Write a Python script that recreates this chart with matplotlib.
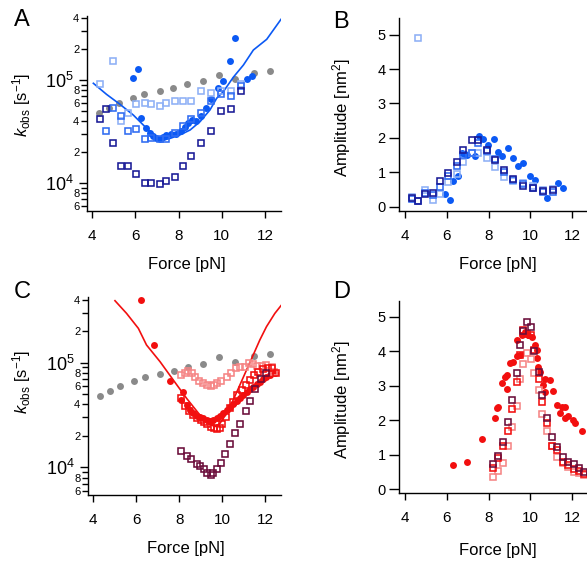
import math

import matplotlib
matplotlib.use("Agg")
import matplotlib.pyplot as plt
from matplotlib.ticker import FixedLocator, FuncFormatter

plt.rcParams["font.family"] = ["Liberation Sans", "DejaVu Sans"]
plt.rcParams["mathtext.fontset"] = "custom"
plt.rcParams["mathtext.rm"] = "Liberation Sans"
plt.rcParams["mathtext.it"] = "Liberation Sans:italic"
plt.rcParams["mathtext.bf"] = "Liberation Sans:bold"

W, H = 587, 568

GRAY = "#8a8a8a"
BLUE = "#0b59f4"
BLUE_LIGHT = "#8db0f6"
BLUE_MID = "#2f6cf2"
NAVY = "#191a96"
RED = "#f20f0f"
PINK = "#f58585"
MAROON = "#6a0c3a"

# --- reference rates (gray), same in A and C
gray_f = [4.30, 4.78, 5.25, 5.88, 6.40, 7.12, 7.74, 8.40, 9.13, 9.87, 10.62, 11.48, 12.23]
gray_k = [48300, 53900, 60200, 67300, 72500, 78500, 84100, 90500, 98200, 113000, 102000, 117000, 121500]

# --- panel A: rates
a_circ_f = [5.90, 6.12, 6.27, 6.50, 6.66, 6.81, 6.97, 7.12, 7.27, 7.43, 7.63, 7.89, 8.12,
            8.28, 8.43, 8.62, 8.82, 9.05, 9.28, 9.51, 9.82, 10.05, 10.36, 10.61, 11.18, 11.40]
a_circ_k = [105000, 126800, 43300, 34600, 30900, 28700, 27200, 26700, 27900, 29400, 30000,
            30000, 32400, 35400, 38100, 41000, 40100, 44900, 53200, 65000, 84300, 97800,
            152700, 257000, 101500, 109300]

a_light_f = [4.34, 4.96, 5.34, 5.65, 6.04, 6.42, 6.73, 7.12, 7.43, 7.81, 8.20, 8.59, 9.05,
             9.51, 9.98, 10.44, 10.90]
a_light_k = [90800, 152700, 40100, 48300, 58600, 60400, 58200, 56000, 60400, 62700, 62700,
             62700, 78300, 75300, 78300, 78300, 90800]

a_mid_f = [4.65, 4.96, 5.34, 5.65, 6.04, 6.42, 6.73, 7.12, 7.43, 7.81, 8.20, 8.59, 9.05,
           9.51, 9.98, 10.44, 10.90]
a_mid_k = [32100, 53900, 44900, 32100, 33300, 26700, 27700, 26700, 26700, 30900, 35900,
           41600, 48300, 62700, 72600, 70000, 87500]

a_navy_f = [4.34, 4.65, 4.96, 5.34, 5.65, 6.04, 6.42, 6.73, 7.12, 7.43, 7.81, 8.20, 8.59,
            9.05, 9.51, 9.98, 10.44, 10.90]
a_navy_k = [41600, 52000, 24800, 14700, 14700, 12200, 10100, 10100, 9770, 10500, 11400,
            14700, 18400, 24800, 32100, 50100, 52000, 78300]

a_fit_f = [4.05, 4.66, 5.28, 5.90, 6.52, 6.98, 7.29, 7.60, 8.06, 8.53, 8.99, 9.45, 9.76,
           10.07, 10.53, 11.00, 11.46, 12.08, 12.74]
a_fit_k = [92900, 72600, 58200, 45800, 34000, 28300, 26200, 27200, 29400, 32800, 39500,
           51300, 66500, 77100, 106200, 139600, 195000, 247700, 386400]

# --- panel B: amplitudes
b_circ_f = [5.91, 6.15, 6.31, 6.55, 6.71, 6.85, 6.95, 7.35, 7.54, 7.75, 7.98, 8.26, 8.46,
            8.62, 8.94, 9.18, 9.42, 9.66, 9.98, 10.22, 10.77, 11.33, 11.57]
b_circ_a = [0.36, 0.21, 0.74, 0.89, 1.55, 1.52, 1.50, 1.47, 2.06, 1.96, 1.79, 1.96, 1.60,
            1.47, 1.71, 1.42, 1.18, 1.28, 0.89, 0.79, 0.26, 0.70, 0.55]

b_sq_f = [4.32, 4.64, 4.96, 5.35, 5.67, 6.07, 6.47, 6.79, 7.19, 7.51, 7.90, 8.30, 8.73,
          9.18, 9.66, 10.14, 10.61, 11.09]
b_light_a = [0.29, 4.90, 0.50, 0.21, 0.36, 0.71, 0.95, 1.31, 1.55, 1.57, 1.42, 1.16, 0.87,
             0.74, 0.70, 0.60, 0.48, 0.53]
b_mid_a = [0.24, 0.17, 0.40, 0.33, 0.58, 0.90, 1.19, 1.50, 1.55, 1.84, 1.62, 1.40, 1.00,
           0.78, 0.65, 0.55, 0.42, 0.44]
b_navy_a = [0.26, 0.16, 0.36, 0.41, 0.74, 0.97, 1.31, 1.66, 1.93, 1.93, 1.66, 1.37, 1.06,
            0.82, 0.60, 0.55, 0.45, 0.48]

# --- panel C: rates
c_circ_f = [6.24, 6.84, 7.57, 8.19, 8.11, 8.35, 8.50, 8.66, 8.81, 8.97, 9.12, 9.28, 9.43,
            9.59, 9.75, 9.90, 10.06, 10.21, 10.37, 10.52, 10.68, 10.83, 10.99, 11.14, 11.30,
            11.45, 11.61, 11.76, 11.92, 12.07, 12.23, 12.46]
c_circ_k = [397000, 146600, 67300, 52100, 44000, 39400, 35300, 32800, 30900, 30000, 29400,
            28300, 27900, 28300, 29400, 30900, 32800, 35300, 38000, 40300, 43400, 45600,
            49100, 52800, 55600, 59100, 62600, 65800, 69300, 73400, 76200, 80200]

c_red_f = [8.07, 8.27, 8.47, 8.66, 8.84, 9.00, 9.16, 9.31, 9.48, 9.64, 9.78, 9.90, 10.02,
           10.18, 10.37, 10.52, 10.71, 10.91, 11.10, 11.30, 11.50, 11.69, 11.92, 12.12, 12.35,
           12.50]
c_red_k = [45600, 38500, 34500, 31600, 29400, 28300, 26900, 25800, 24500, 23600, 23300,
           23900, 25900, 30500, 36600, 42400, 49100, 54800, 61200, 68200, 76200, 82000,
           86300, 88300, 89600, 80000]

c_pink_f = [8.11, 8.27, 8.43, 8.58, 8.74, 8.94, 9.12, 9.31, 9.47, 9.62, 9.78, 9.93, 10.21,
            10.44, 10.65, 10.83, 11.07, 11.27, 11.45, 11.64, 11.84, 12.07, 12.31, 12.40]
c_pink_k = [76200, 80200, 83900, 80200, 73400, 67300, 63500, 61200, 59900, 61200, 64400,
            67300, 73400, 80200, 88300, 91600, 90200, 98600, 97200, 92900, 92900, 95000,
            91600, 82000]

c_maroon_f = [8.11, 8.35, 8.57, 8.81, 8.97, 9.16, 9.31, 9.47, 9.59, 9.75, 9.93, 10.15,
              10.37, 10.60, 10.83, 11.10, 11.31, 11.55, 11.81, 12.07]
c_maroon_k = [14400, 12800, 11900, 10700, 10400, 9570, 8900, 8510, 8770, 9570, 11100, 13400,
              16900, 21100, 25900, 34800, 43400, 56000, 69800, 80200]

c_fit_f = [5.01, 5.55, 6.10, 6.48, 7.11, 7.73, 8.35, 8.97, 9.36, 9.67, 9.90, 10.21, 10.52,
           10.83, 11.14, 11.45, 11.76, 12.07, 12.46, 12.77]
c_fit_k = [391000, 295800, 212800, 147600, 102300, 68200, 45600, 31600, 26300, 24500, 26300,
           32800, 44000, 61200, 85100, 118300, 164800, 220800, 295800, 355600]

# --- panel D: amplitudes
d_circ_f = [6.31, 6.95, 7.67, 8.30, 8.38, 8.46, 8.62, 8.78, 8.86, 8.86, 9.02, 9.18, 9.34,
            9.34, 9.50, 9.58, 9.74, 9.90, 10.06, 10.22, 10.29, 10.29, 10.37, 10.45, 10.61,
            10.69, 10.69, 10.93, 11.09, 11.25, 11.41, 11.49, 11.65, 11.65, 11.81, 12.02,
            12.13, 12.45]
d_circ_a = [0.69, 0.78, 1.46, 2.06, 2.35, 2.37, 3.07, 3.26, 3.31, 2.91, 3.65, 3.70, 4.32,
            3.87, 3.89, 4.47, 4.57, 4.47, 4.42, 4.18, 4.03, 3.79, 3.55, 3.41, 3.02, 3.21,
            2.83, 3.17, 2.86, 2.44, 2.20, 2.39, 2.37, 2.06, 2.12, 2.01, 1.93, 1.70]

d_sq_f = [8.22, 8.46, 8.70, 8.94, 9.10, 9.37, 9.50, 9.66, 9.85, 10.01, 10.17, 10.42, 10.53,
          10.80, 11.04, 11.28, 11.57, 11.81, 12.08, 12.33, 12.56]
d_maroon_a = [0.73, 0.97, 1.36, 1.94, 2.59, 3.36, 4.18, 4.59, 4.84, 4.71, 4.02, 3.41, 2.73,
              2.06, 1.51, 1.22, 0.95, 0.80, 0.73, 0.61, 0.49]
d_red_a = [0.62, 0.90, 1.25, 1.70, 2.33, 3.10, 3.90, 4.62, 4.50, 4.48, 4.05, 3.20, 2.52,
           1.93, 1.25, 1.15, 0.80, 0.70, 0.60, 0.52, 0.45]
d_pink_a = [0.35, 0.54, 0.77, 1.26, 1.80, 2.42, 3.20, 3.63, 3.94, 3.77, 3.36, 2.88, 2.18,
            1.70, 1.25, 0.95, 0.75, 0.66, 0.51, 0.46, 0.41]


def add_panel(fig, left, top, right, bottom):
    # axes box given in pixels from the top-left corner of the figure
    ax = fig.add_axes([left / W, 1 - bottom / H, (right - left) / W, (bottom - top) / H])
    for side in ("top", "right"):
        ax.spines[side].set_visible(False)
    for side in ("left", "bottom"):
        ax.spines[side].set_linewidth(1.0)
    ax.set_xticks([4, 6, 8, 10, 12])
    ax.tick_params(axis="x", direction="out", length=5.3, width=1.0, labelsize=11, pad=8)
    return ax


def decade_label(v, pos):
    return r"$10^{%d}$" % round(math.log10(v))


def minor_label(v, pos):
    # only 2, 4, 6, 8 get a number inside each decade
    m = round(v / 10 ** math.floor(math.log10(v) + 1e-9))
    return str(m) if m in (2, 4, 6, 8) else ""


def log_rate_axis(ax, ylim):
    ax.set_yscale("log")
    ax.set_ylim(*ylim)
    ax.yaxis.set_major_locator(FixedLocator([1e4, 1e5]))
    ax.yaxis.set_major_formatter(FuncFormatter(decade_label))
    minors = [m * 10 ** e for e in (3, 4, 5) for m in range(2, 10)]
    ax.yaxis.set_minor_locator(FixedLocator(minors))
    ax.yaxis.set_minor_formatter(FuncFormatter(minor_label))
    ax.tick_params(axis="y", which="major", direction="out", length=5.5, width=1.0,
                   labelsize=13, pad=4)
    ax.tick_params(axis="y", which="minor", direction="out", length=4.0, width=1.0,
                   labelsize=8, pad=1.5)


def amp_axis(ax, ylim):
    ax.set_ylim(*ylim)
    ax.set_yticks([0, 1, 2, 3, 4, 5])
    ax.tick_params(axis="y", direction="out", length=7.5, width=1.0, labelsize=10.5, pad=2)


def put_labels(fig, ax, xlabel, ylabel, xpos, ypos):
    ax.set_xlabel(xlabel, fontsize=12)
    ax.set_ylabel(ylabel, fontsize=12)
    ax.xaxis.label.set_va("center")
    ax.yaxis.label.set_va("center")
    ax.xaxis.set_label_coords(xpos[0] / W, 1 - xpos[1] / H, transform=fig.transFigure)
    ax.yaxis.set_label_coords(ypos[0] / W, 1 - ypos[1] / H, transform=fig.transFigure)


def circles(ax, f, v, color):
    ax.plot(f, v, linestyle="none", marker="o", ms=5.0, mec="none", mfc=color)


def squares(ax, f, v, color):
    ax.plot(f, v, linestyle="none", marker="s", ms=4.2, mew=1.15, mec=color, mfc="none")


fig = plt.figure(figsize=(W / 100, H / 100), dpi=100)
klabel = r"$k_{\mathrm{obs}}$ [s$^{-1}$]"
alabel = r"Amplitude [nm$^{2}$]"

# A
ax = add_panel(fig, 87, 15.6, 281.2, 211)
log_rate_axis(ax, (5395, 4.2e5))
ax.set_xlim(3.755, 12.75)
circles(ax, gray_f, gray_k, GRAY)
circles(ax, a_circ_f, a_circ_k, BLUE)
ax.plot(a_fit_f, a_fit_k, color=BLUE, lw=1.2)
squares(ax, a_light_f, a_light_k, BLUE_LIGHT)
squares(ax, a_mid_f, a_mid_k, BLUE_MID)
squares(ax, a_navy_f, a_navy_k, NAVY)
put_labels(fig, ax, "Force [pN]", klabel, (187, 265), (22, 105))

# B
ax = add_panel(fig, 399, 18, 588, 211)
amp_axis(ax, (-0.12, 5.48))
ax.set_xlim(3.713, 12.75)
circles(ax, b_circ_f, b_circ_a, BLUE)
squares(ax, b_sq_f, b_light_a, BLUE_LIGHT)
squares(ax, b_sq_f, b_mid_a, BLUE_MID)
squares(ax, b_sq_f, b_navy_a, NAVY)
put_labels(fig, ax, "Force [pN]", alabel, (498, 265), (342, 118))

# C
ax = add_panel(fig, 88, 296.7, 281, 495)
log_rate_axis(ax, (5450, 4.27e5))
ax.set_xlim(3.753, 12.747)
circles(ax, gray_f, gray_k, GRAY)
circles(ax, c_circ_f, c_circ_k, RED)
ax.plot(c_fit_f, c_fit_k, color=RED, lw=1.2)
squares(ax, c_pink_f, c_pink_k, PINK)
squares(ax, c_red_f, c_red_k, RED)
squares(ax, c_maroon_f, c_maroon_k, MAROON)
put_labels(fig, ax, "Force [pN]", klabel, (186, 548), (22, 382))

# D
ax = add_panel(fig, 399, 300.7, 588, 493)
amp_axis(ax, (-0.107, 5.464))
ax.set_xlim(3.713, 12.75)
circles(ax, d_circ_f, d_circ_a, RED)
squares(ax, d_sq_f, d_pink_a, PINK)
squares(ax, d_sq_f, d_red_a, RED)
squares(ax, d_sq_f, d_maroon_a, MAROON)
put_labels(fig, ax, "Force [pN]", alabel, (498, 550), (342, 400))

for letter, x, y in (("A", 14, 9.5), ("B", 333, 11), ("C", 14, 281), ("D", 333, 281)):
    fig.text(x / W, 1 - y / H, letter, fontsize=17, ha="left", va="top")

fig.savefig("out.png", dpi=100)
